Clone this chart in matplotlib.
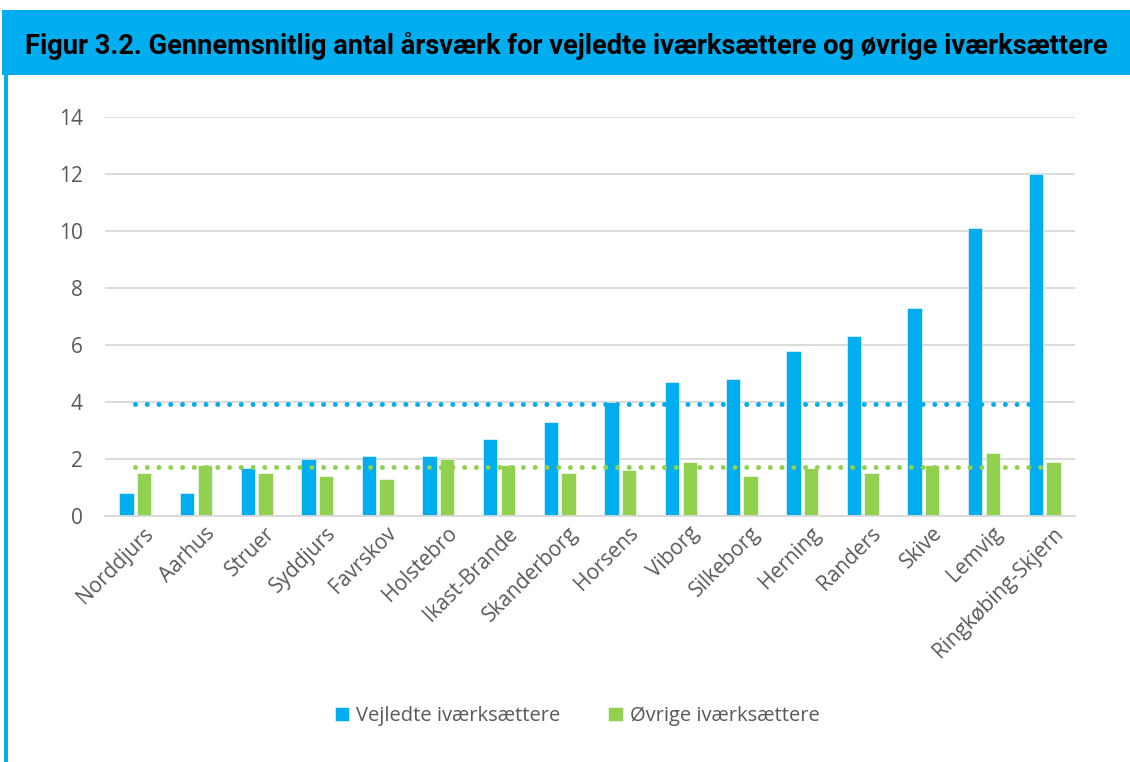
import matplotlib
matplotlib.use("Agg")
import matplotlib.pyplot as plt
import numpy as np
from matplotlib.patches import Rectangle
import matplotlib.transforms as mtrans

categories = ["Norddjurs", "Aarhus", "Struer", "Syddjurs", "Favrskov", "Holstebro",
              "Ikast-Brande", "Skanderborg", "Horsens", "Viborg", "Silkeborg",
              "Herning", "Randers", "Skive", "Lemvig", "Ringkøbing-Skjern"]
vejledte = [0.8, 0.8, 1.7, 2.0, 2.1, 2.1, 2.7, 3.3, 4.0, 4.7, 4.8, 5.8, 6.3, 7.3, 10.1, 12.0]
ovrige = [1.5, 1.8, 1.5, 1.4, 1.3, 2.0, 1.8, 1.5, 1.6, 1.9, 1.4, 1.7, 1.5, 1.8, 2.2, 1.9]
avg_vejledte = 3.92
avg_ovrige = 1.73
yticks = [0, 2, 4, 6, 8, 10, 12, 14]
title = "Figur 3.2. Gennemsnitlig antal årsværk for vejledte iværksættere og øvrige iværksættere"
legend_labels = ["Vejledte iværksættere", "Øvrige iværksættere"]

BLUE = "#00ADEF"
GREEN = "#92D050"
GRID = "#D9D9D9"
TXT = "#595959"
FONT = ["Open Sans", "DejaVu Sans"]

plt.rcParams["font.family"] = FONT

W, H = 1130, 762
fig = plt.figure(figsize=(W / 100, H / 100), dpi=100)

# title bar
fig.patches.append(Rectangle((2 / W, 1 - 75 / H), 1 - 2 / W, 65 / H, transform=fig.transFigure,
                             facecolor=BLUE, edgecolor="none", zorder=0))
# left border
fig.patches.append(Rectangle((4 / W, 0), 4 / W, 1 - 70 / H, transform=fig.transFigure,
                             facecolor=BLUE, edgecolor="none", zorder=0))

t = fig.text(25 / W, 1 - 46 / H, title, color="black", fontweight="bold", fontsize=16,
             ha="left", va="center", family=["Roboto", "DejaVu Sans"])
fig.canvas.draw()
bb = t.get_window_extent()
t.set_fontsize(16 * 1085 / bb.width)

ax = fig.add_axes([105 / W, 1 - 516 / H, 970 / W, 399 / H])
x = np.arange(len(categories))
bw = 0.237
off = 0.145
b1 = ax.bar(x - off, vejledte, bw, color=BLUE, edgecolor="white", linewidth=0.4, zorder=2,
            label=legend_labels[0])
b2 = ax.bar(x + off, ovrige, bw, color=GREEN, edgecolor="white", linewidth=0.4, zorder=2,
            label=legend_labels[1])

ax.plot(x, [avg_vejledte] * len(x), color=BLUE, linewidth=3.6,
        linestyle=(0, (0.001, 2.35)), dash_capstyle="round", zorder=3)
ax.plot(x, [avg_ovrige] * len(x), color=GREEN, linewidth=3.6,
        linestyle=(0, (0.001, 2.35)), dash_capstyle="round", zorder=3)

ax.set_xlim(-0.5, len(categories) - 0.5)
ax.set_ylim(0, 14)
ax.set_yticks(yticks)
ax.set_yticklabels([str(v) for v in yticks])
ax.yaxis.grid(True, color=GRID, linewidth=1.3, zorder=0)
ax.set_axisbelow(True)
for s in ["top", "right", "left"]:
    ax.spines[s].set_visible(False)
ax.spines["bottom"].set_color(GRID)
ax.spines["bottom"].set_linewidth(1.3)
ax.tick_params(axis="y", length=0, pad=16, labelsize=15, labelcolor=TXT)
ax.tick_params(axis="x", length=0, pad=5, labelsize=15, labelcolor=TXT)
ax.set_xticks(x)
ax.set_xticklabels(categories, rotation=45, ha="right", va="top", rotation_mode="anchor")
shift = mtrans.ScaledTranslation(8 / 100, 0, fig.dpi_scale_trans)
for lab in ax.get_xticklabels():
    lab.set_transform(lab.get_transform() + shift)

leg = fig.legend(handles=[b1, b2], labels=legend_labels, loc="center",
                 bbox_to_anchor=(577 / W, 1 - 716 / H), ncol=2, frameon=False,
                 fontsize=14.5, handlelength=0.7, handleheight=0.7, handletextpad=0.35,
                 columnspacing=2.4, labelcolor=TXT)

fig.savefig("out.png", dpi=100, facecolor="white")
